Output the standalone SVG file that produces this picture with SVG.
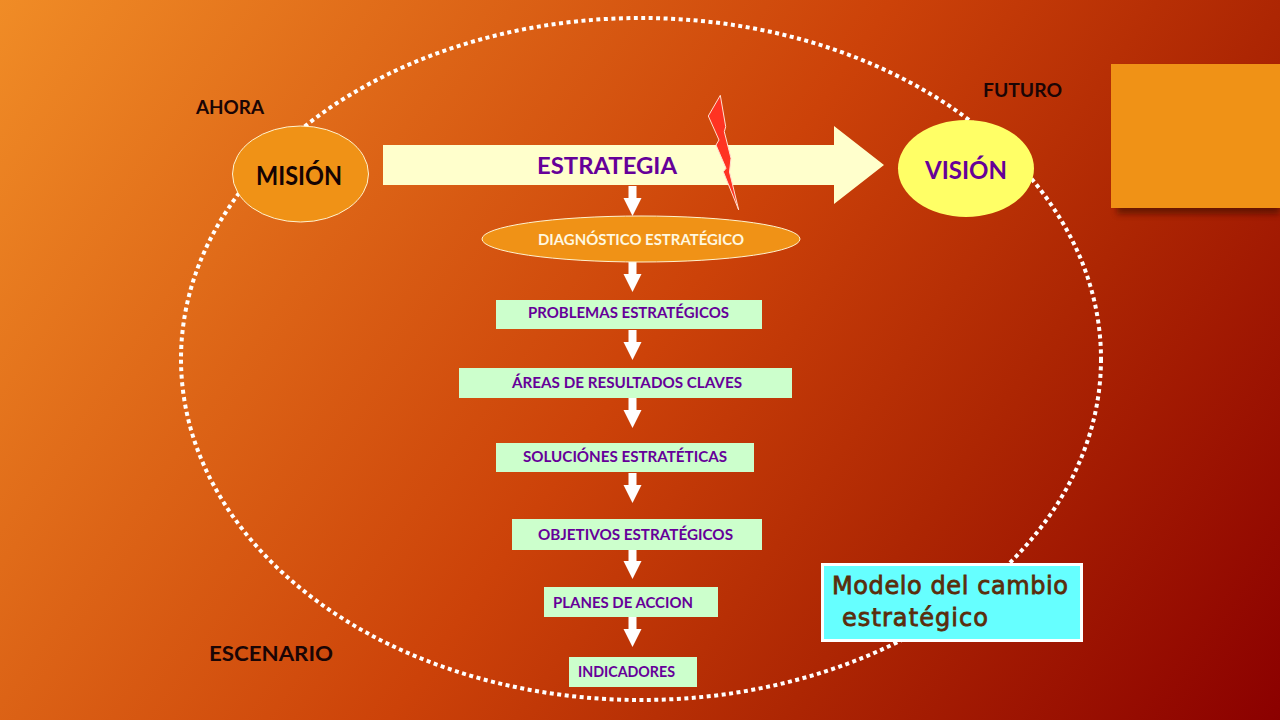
<svg xmlns="http://www.w3.org/2000/svg" width="1280" height="720" viewBox="0 0 1280 720">
<style>
text{font-family:"Lato","Liberation Sans",sans-serif;font-weight:700}
.box{fill:#CCFFCC}
.lbl{fill:#660099;font-size:15px;text-anchor:middle}
.ctx{fill:#1a0505;font-size:18px;text-anchor:middle}
.down{fill:#fff}
.note{fill:#5a2d0c;font-family:"DejaVu Sans",sans-serif;font-size:24px;font-weight:400;stroke:#5a2d0c;stroke-width:.8}
</style>
<defs>
<linearGradient id="bg" gradientUnits="userSpaceOnUse" x1="40" y1="-60" x2="1240" y2="780">
<stop offset="0" stop-color="#F08C26"/><stop offset=".5" stop-color="#CC4209"/><stop offset=".72" stop-color="#AD2603"/><stop offset="1" stop-color="#8B0000"/>
</linearGradient>
<filter id="sh" x="-10%" y="-10%" width="120%" height="120%"><feGaussianBlur stdDeviation="3"/></filter>
<path id="dn" class="down" d="M-4 0H4V12H9L0 30L-9 12H-4Z"/>
</defs>
<rect width="1280" height="720" fill="url(#bg)"/>
<g id="accent">
<rect x="1117" y="70" width="163" height="144" fill="#3a0a00" opacity=".6" filter="url(#sh)"/>
<rect x="1111" y="64" width="169" height="144" fill="#F09216"/>
</g>
<g id="connectors">
<ellipse id="escenario" cx="641" cy="359" rx="460" ry="341" fill="none" stroke="#fff" stroke-width="4" stroke-dasharray="4 3.500"/>
<use href="#dn" x="632.500" y="186"/>
<use href="#dn" x="632.500" y="262"/>
<use href="#dn" x="632.500" y="330"/>
<use href="#dn" x="632.500" y="398"/>
<use href="#dn" x="632.500" y="473"/>
<use href="#dn" x="632.500" y="549"/>
<use href="#dn" x="632.500" y="617"/>
</g>
<g id="estrategia">
<path d="M383 145H834V126L884 165L834 204V185H383Z" fill="#FFFFCC"/>
<text x="607" y="174" text-anchor="middle" font-size="22" fill="#660099" textLength="140" lengthAdjust="spacingAndGlyphs">ESTRATEGIA</text>
</g>
<g id="rayo"><path d="M720.300 95.300L725.700 126.700L724.300 131.700L731 158.300L729.500 172L738.700 210L723.300 171.700L726 168.300L716 145L719 140L708.300 116Z" fill="#FF3322" stroke="#FFE0D0" stroke-width="1"/></g>
<g id="mision">
<ellipse cx="300.500" cy="174" rx="68" ry="48" fill="#F09216" stroke="#FFF3D0" stroke-width="1"/>
<text x="299" y="185" text-anchor="middle" font-size="26" fill="#140303" textLength="86" lengthAdjust="spacingAndGlyphs">MISIÓN</text>
</g>
<g id="vision">
<ellipse cx="966" cy="168.500" rx="68" ry="48.500" fill="#FFFF66"/>
<text x="966" y="179" text-anchor="middle" font-size="25" fill="#660099" textLength="82" lengthAdjust="spacingAndGlyphs">VISIÓN</text>
</g>
<g id="diagnostico">
<ellipse cx="641" cy="239" rx="159" ry="23" fill="#F09216" stroke="#FFF3D0" stroke-width="1"/>
<text x="641" y="245" text-anchor="middle" font-size="15" fill="#FFF8E0" textLength="206" lengthAdjust="spacingAndGlyphs">DIAGNÓSTICO ESTRATÉGICO</text>
</g>
<g id="problemas"><rect class="box" x="496" y="300" width="266" height="29"/><text class="lbl" x="628.500" y="318" textLength="201" lengthAdjust="spacingAndGlyphs">PROBLEMAS ESTRATÉGICOS</text></g>
<g id="areas"><rect class="box" x="459" y="368" width="333" height="30"/><text class="lbl" x="627" y="388" textLength="230" lengthAdjust="spacingAndGlyphs">ÁREAS DE RESULTADOS CLAVES</text></g>
<g id="soluciones"><rect class="box" x="496" y="443" width="258" height="29"/><text class="lbl" x="625" y="462" textLength="204" lengthAdjust="spacingAndGlyphs">SOLUCIÓNES ESTRATÉTICAS</text></g>
<g id="objetivos"><rect class="box" x="512" y="519" width="250" height="31"/><text class="lbl" x="635.500" y="540" textLength="195" lengthAdjust="spacingAndGlyphs">OBJETIVOS ESTRATÉGICOS</text></g>
<g id="planes"><rect class="box" x="544" y="587" width="174" height="30"/><text class="lbl" x="623" y="608" textLength="140" lengthAdjust="spacingAndGlyphs">PLANES DE ACCION</text></g>
<g id="indicadores"><rect class="box" x="569" y="657" width="128" height="30"/><text class="lbl" x="626.500" y="677" textLength="97" lengthAdjust="spacingAndGlyphs">INDICADORES</text></g>
<g id="ahora"><text class="ctx" x="230" y="114" textLength="68" lengthAdjust="spacingAndGlyphs">AHORA</text></g>
<g id="futuro"><text class="ctx" x="1022.500" y="97" textLength="79" lengthAdjust="spacingAndGlyphs">FUTURO</text></g>
<g id="escenario-lbl"><text class="ctx" x="271" y="661" style="font-size:21px" textLength="124" lengthAdjust="spacingAndGlyphs">ESCENARIO</text></g>
<g id="modelo">
<rect x="822.500" y="564.500" width="259" height="76" fill="#66FFFF" stroke="#fff" stroke-width="3"/>
<text class="note" x="832" y="594" textLength="236">Modelo del cambio</text>
<text class="note" x="842" y="626" textLength="146">estratégico</text>
</g>
</svg>
